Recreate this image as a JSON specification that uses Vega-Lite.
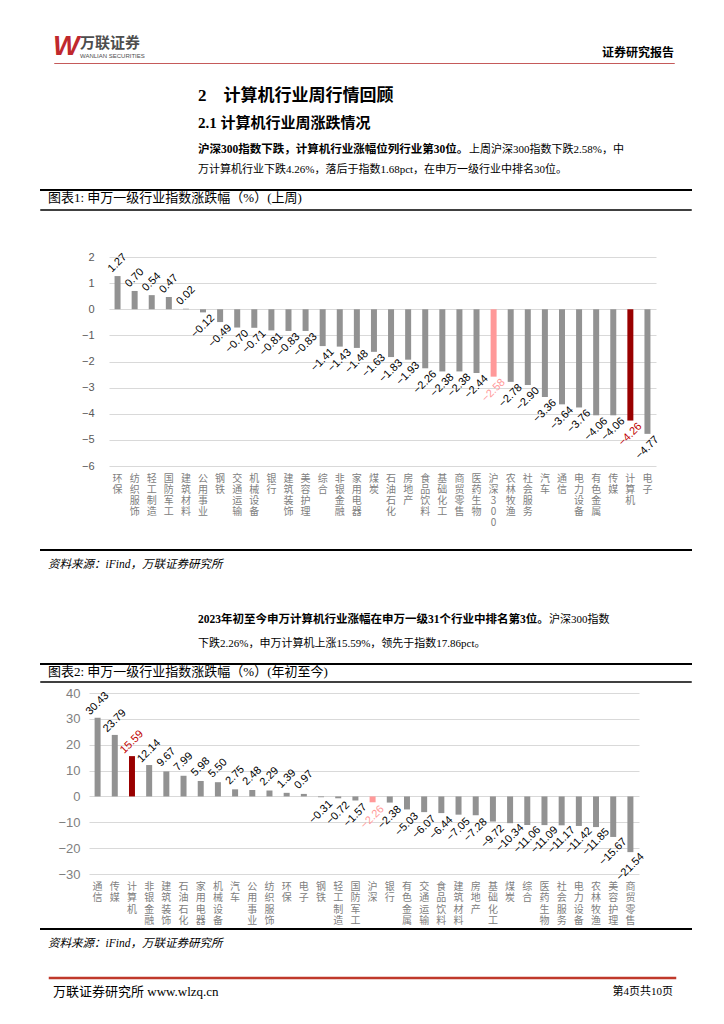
{
  "$schema": "https://vega.github.io/schema/vega-lite/v6.json",
  "background": "white",
  "padding": {"left": 40, "top": 33, "right": 0, "bottom": 0},
  "config": {"view": {"stroke": null}, "title": {"offset": 0, "orient": "bottom", "anchor": "start", "frame": "group", "color": "#000000"}},
  "datasets": {
    "weekly": [
      {"industry": "环保", "chg": 1.27, "group": "其他"},
      {"industry": "纺织服饰", "chg": 0.70, "group": "其他"},
      {"industry": "轻工制造", "chg": 0.54, "group": "其他"},
      {"industry": "国防军工", "chg": 0.47, "group": "其他"},
      {"industry": "建筑材料", "chg": 0.02, "group": "其他"},
      {"industry": "公用事业", "chg": -0.12, "group": "其他"},
      {"industry": "钢铁", "chg": -0.49, "group": "其他"},
      {"industry": "交通运输", "chg": -0.70, "group": "其他"},
      {"industry": "机械设备", "chg": -0.71, "group": "其他"},
      {"industry": "银行", "chg": -0.81, "group": "其他"},
      {"industry": "建筑装饰", "chg": -0.83, "group": "其他"},
      {"industry": "美容护理", "chg": -0.83, "group": "其他"},
      {"industry": "综合", "chg": -1.41, "group": "其他"},
      {"industry": "非银金融", "chg": -1.43, "group": "其他"},
      {"industry": "家用电器", "chg": -1.48, "group": "其他"},
      {"industry": "煤炭", "chg": -1.63, "group": "其他"},
      {"industry": "石油石化", "chg": -1.83, "group": "其他"},
      {"industry": "房地产", "chg": -1.93, "group": "其他"},
      {"industry": "食品饮料", "chg": -2.26, "group": "其他"},
      {"industry": "基础化工", "chg": -2.38, "group": "其他"},
      {"industry": "商贸零售", "chg": -2.38, "group": "其他"},
      {"industry": "医药生物", "chg": -2.44, "group": "其他"},
      {"industry": "沪深300", "chg": -2.58, "group": "沪深300"},
      {"industry": "农林牧渔", "chg": -2.78, "group": "其他"},
      {"industry": "社会服务", "chg": -2.90, "group": "其他"},
      {"industry": "汽车", "chg": -3.36, "group": "其他"},
      {"industry": "通信", "chg": -3.64, "group": "其他"},
      {"industry": "电力设备", "chg": -3.76, "group": "其他"},
      {"industry": "有色金属", "chg": -4.06, "group": "其他"},
      {"industry": "传媒", "chg": -4.06, "group": "其他"},
      {"industry": "计算机", "chg": -4.26, "group": "计算机"},
      {"industry": "电子", "chg": -4.77, "group": "其他"}
    ],
    "ytd": [
      {"industry": "通信", "chg": 30.43, "group": "其他"},
      {"industry": "传媒", "chg": 23.79, "group": "其他"},
      {"industry": "计算机", "chg": 15.59, "group": "计算机"},
      {"industry": "非银金融", "chg": 12.14, "group": "其他"},
      {"industry": "建筑装饰", "chg": 9.67, "group": "其他"},
      {"industry": "石油石化", "chg": 7.99, "group": "其他"},
      {"industry": "家用电器", "chg": 5.98, "group": "其他"},
      {"industry": "机械设备", "chg": 5.50, "group": "其他"},
      {"industry": "汽车", "chg": 2.75, "group": "其他"},
      {"industry": "公用事业", "chg": 2.48, "group": "其他"},
      {"industry": "纺织服饰", "chg": 2.29, "group": "其他"},
      {"industry": "环保", "chg": 1.39, "group": "其他"},
      {"industry": "电子", "chg": 0.97, "group": "其他"},
      {"industry": "钢铁", "chg": -0.31, "group": "其他"},
      {"industry": "轻工制造", "chg": -0.72, "group": "其他"},
      {"industry": "国防军工", "chg": -1.57, "group": "其他"},
      {"industry": "沪深", "chg": -2.26, "group": "沪深300"},
      {"industry": "银行", "chg": -2.38, "group": "其他"},
      {"industry": "有色金属", "chg": -5.03, "group": "其他"},
      {"industry": "交通运输", "chg": -6.07, "group": "其他"},
      {"industry": "食品饮料", "chg": -6.44, "group": "其他"},
      {"industry": "建筑材料", "chg": -7.05, "group": "其他"},
      {"industry": "房地产", "chg": -7.28, "group": "其他"},
      {"industry": "基础化工", "chg": -9.72, "group": "其他"},
      {"industry": "煤炭", "chg": -10.34, "group": "其他"},
      {"industry": "综合", "chg": -11.06, "group": "其他"},
      {"industry": "医药生物", "chg": -11.09, "group": "其他"},
      {"industry": "社会服务", "chg": -11.17, "group": "其他"},
      {"industry": "电力设备", "chg": -11.42, "group": "其他"},
      {"industry": "农林牧渔", "chg": -11.85, "group": "其他"},
      {"industry": "美容护理", "chg": -15.67, "group": "其他"},
      {"industry": "商贸零售", "chg": -21.54, "group": "其他"}
    ]
  },
  "spacing": 0,
  "vconcat": [
    {"spacing": 0, "hconcat": [
      {"width": 12, "height": 0.01, "data": {"values": []}, "mark": "point"},
      {"width": 1, "height": 0.01, "data": {"values": []}, "mark": "point",
       "title": {"text": "W", "offset": 0, "font": "Liberation Sans", "fontSize": 28, "fontWeight": "bold", "fontStyle": "italic", "color": "#C0282D"}},
      {"width": 518, "height": 0.01, "data": {"values": []}, "mark": "point",
       "title": {"text": "万联证券", "offset": 3, "font": "Noto Sans CJK SC", "fontSize": 15, "fontWeight": "bold", "color": "#4D4D4D",
                 "subtitle": "WANLIAN SECURITIES", "subtitleFont": "Liberation Sans", "subtitleFontSize": 6, "subtitleColor": "#4D4D4D", "subtitlePadding": 2}},
      {"width": 76, "height": 0.01, "data": {"values": []}, "mark": "point",
       "title": {"text": "证券研究报告", "anchor": "end", "offset": 15, "font": "Noto Sans CJK SC", "fontSize": 12, "fontWeight": "bold"}}
    ]},
    {"spacing": 0, "hconcat": [
      {"width": 12, "height": 0.01, "data": {"values": []}, "mark": "point"},
      {"width": 620, "height": 0.01, "data": {"values": []}, "mark": "point", "view": {"stroke": "#C55A5A", "strokeWidth": 1}}
    ]},
    {"width": 650, "height": 20, "data": {"values": []}, "mark": "point",
     "title": {"text": "2\u2003计算机行业周行情回顾", "dx": 157, "font": "Liberation Serif, Noto Sans CJK SC", "fontSize": 17, "fontWeight": "bold",
               "subtitle": "2.1 计算机行业周涨跌情况", "subtitleFont": "Liberation Serif, Noto Sans CJK SC", "subtitleFontSize": 15, "subtitleFontWeight": "bold", "subtitleColor": "#000000", "subtitlePadding": 11}},
    {"spacing": 0, "hconcat": [
      {"width": 157, "height": 9, "data": {"values": []}, "mark": "point"},
      {"width": 1, "height": 9, "data": {"values": []}, "mark": "point",
       "title": {"text": "沪深300指数下跌，计算机行业涨幅位列行业第30位。", "font": "Liberation Serif, Noto Sans CJK SC", "fontSize": 11.5, "fontWeight": "bold"}},
      {"width": 1, "height": 9, "data": {"values": []}, "mark": "point",
       "title": {"text": "上周沪深300指数下跌2.58%，中", "font": "Liberation Serif, Noto Sans CJK SC", "fontSize": 11, "fontWeight": "normal"}}
    ]},
    {"width": 650, "height": 4, "data": {"values": []}, "mark": "point",
     "title": {"text": "万计算机行业下跌4.26%，落后于指数1.68pct，在申万一级行业中排名30位。", "dx": 157, "font": "Liberation Serif, Noto Sans CJK SC", "fontSize": 11, "fontWeight": "normal"}},
    {"width": 650, "height": 14, "data": {"values": []}, "mark": "point"},
    {"width": 650, "height": 0.01, "data": {"values": []}, "mark": "point", "view": {"stroke": "#000000", "strokeWidth": 2}},
    {"width": 650, "height": 0.01, "data": {"values": []}, "mark": "point",
     "title": {"text": "图表1: 申万一级行业指数涨跌幅（%）(上周)", "dx": 7, "offset": -1, "font": "Liberation Serif, Noto Sans CJK SC", "fontSize": 13, "fontWeight": "normal"}},
    {"width": 650, "height": 2.5, "data": {"values": []}, "mark": "point"},
    {"width": 650, "height": 0.01, "data": {"values": []}, "mark": "point", "view": {"stroke": "#000000", "strokeWidth": 1.5}},
    {"width": 650, "height": 40, "data": {"values": []}, "mark": "point"},
    {"spacing": 0, "hconcat": [
      {"width": 38, "height": 0.01, "data": {"values": []}, "mark": "point"},
      {
        "width": 547, "height": 209,
        "data": {"name": "weekly"},
        "resolve": {"scale": {"color": "independent"}},
        "layer": [
          {"mark": {"type": "bar", "size": 6},
           "encoding": {
             "x": {"field": "industry", "type": "nominal", "sort": null, "scale": {"paddingInner": 0, "paddingOuter": 0},
                   "axis": {"title": null, "domain": false, "ticks": false, "grid": false, "labelAngle": 0, "labelExpr": "split(datum.label, '')",
                            "labelFont": "Noto Sans CJK SC", "labelFontSize": 10, "labelColor": "#808080", "labelLineHeight": 11, "labelPadding": 7,
                            "labelBaseline": "top", "labelOverlap": false}},
             "y": {"field": "chg", "type": "quantitative", "scale": {"domain": [-6, 2], "nice": false},
                   "axis": {"title": null, "tickCount": 8, "domain": false, "ticks": false, "grid": true, "gridColor": "#D9D9D9",
                            "labelFont": "Liberation Sans", "labelFontSize": 11, "labelColor": "#595959", "labelPadding": 15, "minExtent": 30, "maxExtent": 30}},
             "color": {"field": "group", "type": "nominal", "scale": {"domain": ["其他", "沪深300", "计算机"], "range": ["#929292", "#FF9999", "#990000"]}, "legend": null}
           }},
          {"transform": [{"filter": "datum.chg >= 0"}],
           "mark": {"type": "text", "angle": 315, "align": "center", "baseline": "middle", "yOffset": -13, "font": "Liberation Sans", "fontSize": 11},
           "encoding": {
             "x": {"field": "industry", "type": "nominal", "sort": null},
             "y": {"field": "chg", "type": "quantitative"},
             "text": {"field": "chg", "type": "quantitative", "format": ".2f"},
             "color": {"field": "group", "type": "nominal", "scale": {"domain": ["其他", "沪深300", "计算机"], "range": ["#000000", "#FF9999", "#C00000"]}, "legend": null}
           }},
          {"transform": [{"filter": "datum.chg < 0"}],
           "mark": {"type": "text", "angle": 315, "align": "center", "baseline": "middle", "yOffset": 14, "font": "Liberation Sans", "fontSize": 11},
           "encoding": {
             "x": {"field": "industry", "type": "nominal", "sort": null},
             "y": {"field": "chg", "type": "quantitative"},
             "text": {"field": "chg", "type": "quantitative", "format": ".2f"},
             "color": {"field": "group", "type": "nominal", "scale": {"domain": ["其他", "沪深300", "计算机"], "range": ["#000000", "#FF9999", "#C00000"]}, "legend": null}
           }}
        ]
      }
    ]},
    {"width": 650, "height": 22, "data": {"values": []}, "mark": "point"},
    {"width": 650, "height": 0.01, "data": {"values": []}, "mark": "point", "view": {"stroke": "#000000", "strokeWidth": 2}},
    {"width": 650, "height": 3, "data": {"values": []}, "mark": "point",
     "title": {"text": "资料来源：iFind，万联证券研究所", "dx": 7, "font": "Liberation Serif, Noto Sans CJK SC", "fontSize": 11.5, "fontStyle": "italic", "fontWeight": "normal"}},
    {"spacing": 0, "hconcat": [
      {"width": 157, "height": 39, "data": {"values": []}, "mark": "point"},
      {"width": 1, "height": 39, "data": {"values": []}, "mark": "point",
       "title": {"text": "2023年初至今申万计算机行业涨幅在申万一级31个行业中排名第3位。", "font": "Liberation Serif, Noto Sans CJK SC", "fontSize": 11.5, "fontWeight": "bold"}},
      {"width": 1, "height": 39, "data": {"values": []}, "mark": "point",
       "title": {"text": "沪深300指数", "font": "Liberation Serif, Noto Sans CJK SC", "fontSize": 11, "fontWeight": "normal"}}
    ]},
    {"width": 650, "height": 8, "data": {"values": []}, "mark": "point",
     "title": {"text": "下跌2.26%，申万计算机上涨15.59%，领先于指数17.86pct。", "dx": 157, "font": "Liberation Serif, Noto Sans CJK SC", "fontSize": 11, "fontWeight": "normal"}},
    {"width": 650, "height": 14, "data": {"values": []}, "mark": "point"},
    {"width": 650, "height": 0.01, "data": {"values": []}, "mark": "point", "view": {"stroke": "#000000", "strokeWidth": 2}},
    {"width": 650, "height": 0.01, "data": {"values": []}, "mark": "point",
     "title": {"text": "图表2: 申万一级行业指数涨跌幅（%）(年初至今)", "dx": 7, "offset": -2, "font": "Liberation Serif, Noto Sans CJK SC", "fontSize": 13, "fontWeight": "normal"}},
    {"width": 650, "height": 0.5, "data": {"values": []}, "mark": "point"},
    {"width": 650, "height": 0.01, "data": {"values": []}, "mark": "point", "view": {"stroke": "#000000", "strokeWidth": 1.5}},
    {"width": 650, "height": 4, "data": {"values": []}, "mark": "point"},
    {"spacing": 0, "hconcat": [
      {"width": 13, "height": 0.01, "data": {"values": []}, "mark": "point"},
      {
        "width": 550, "height": 181,
        "data": {"name": "ytd"},
        "resolve": {"scale": {"color": "independent"}},
        "layer": [
          {"mark": {"type": "bar", "size": 6},
           "encoding": {
             "x": {"field": "industry", "type": "nominal", "sort": null, "scale": {"paddingInner": 0, "paddingOuter": 0},
                   "axis": {"title": null, "domain": false, "ticks": false, "grid": false, "labelAngle": 0, "labelExpr": "split(datum.label, '')",
                            "labelFont": "Noto Sans CJK SC", "labelFontSize": 10, "labelColor": "#808080", "labelLineHeight": 11.5, "labelPadding": 7,
                            "labelBaseline": "top", "labelOverlap": false}},
             "y": {"field": "chg", "type": "quantitative", "scale": {"domain": [-30, 40], "nice": false},
                   "axis": {"title": null, "tickCount": 7, "domain": false, "ticks": false, "grid": true, "gridColor": "#D9D9D9",
                            "labelFont": "Liberation Sans", "labelFontSize": 13, "labelColor": "#7F7F7F", "labelPadding": 9, "minExtent": 35, "maxExtent": 35}},
             "color": {"field": "group", "type": "nominal", "scale": {"domain": ["其他", "沪深300", "计算机"], "range": ["#929292", "#FF9999", "#990000"]}, "legend": null}
           }},
          {"transform": [{"filter": "datum.chg >= 0"}],
           "mark": {"type": "text", "angle": 315, "align": "center", "baseline": "middle", "yOffset": -14, "font": "Liberation Sans", "fontSize": 11},
           "encoding": {
             "x": {"field": "industry", "type": "nominal", "sort": null},
             "y": {"field": "chg", "type": "quantitative"},
             "text": {"field": "chg", "type": "quantitative", "format": ".2f"},
             "color": {"field": "group", "type": "nominal", "scale": {"domain": ["其他", "沪深300", "计算机"], "range": ["#000000", "#FF9999", "#C00000"]}, "legend": null}
           }},
          {"transform": [{"filter": "datum.chg < 0"}],
           "mark": {"type": "text", "angle": 315, "align": "center", "baseline": "middle", "yOffset": 15, "font": "Liberation Sans", "fontSize": 11},
           "encoding": {
             "x": {"field": "industry", "type": "nominal", "sort": null},
             "y": {"field": "chg", "type": "quantitative"},
             "text": {"field": "chg", "type": "quantitative", "format": ".2f"},
             "color": {"field": "group", "type": "nominal", "scale": {"domain": ["其他", "沪深300", "计算机"], "range": ["#000000", "#FF9999", "#C00000"]}, "legend": null}
           }}
        ]
      }
    ]},
    {"width": 650, "height": 2, "data": {"values": []}, "mark": "point"},
    {"width": 650, "height": 0.01, "data": {"values": []}, "mark": "point", "view": {"stroke": "#000000", "strokeWidth": 2}},
    {"width": 650, "height": 3, "data": {"values": []}, "mark": "point",
     "title": {"text": "资料来源：iFind，万联证券研究所", "dx": 7, "font": "Liberation Serif, Noto Sans CJK SC", "fontSize": 11.5, "fontStyle": "italic", "fontWeight": "normal"}},
    {"width": 650, "height": 26, "data": {"values": []}, "mark": "point"},
    {"spacing": 0, "hconcat": [
      {"width": 7, "height": 0.01, "data": {"values": []}, "mark": "point"},
      {"width": 625, "height": 0.01, "data": {"values": []}, "mark": "point", "view": {"stroke": "#C0392B", "strokeWidth": 2.5}}
    ]},
    {"spacing": 0, "hconcat": [
      {"width": 12, "height": 2, "data": {"values": []}, "mark": "point"},
      {"width": 400, "height": 2, "data": {"values": []}, "mark": "point",
       "title": {"text": "万联证券研究所 www.wlzq.cn", "font": "Liberation Serif, Noto Sans CJK SC", "fontSize": 13, "fontWeight": "normal"}},
      {"width": 220, "height": 2, "data": {"values": []}, "mark": "point",
       "title": {"text": "第4页共10页", "anchor": "end", "font": "Liberation Serif, Noto Sans CJK SC", "fontSize": 11, "fontWeight": "normal"}}
    ]}
  ]
}
